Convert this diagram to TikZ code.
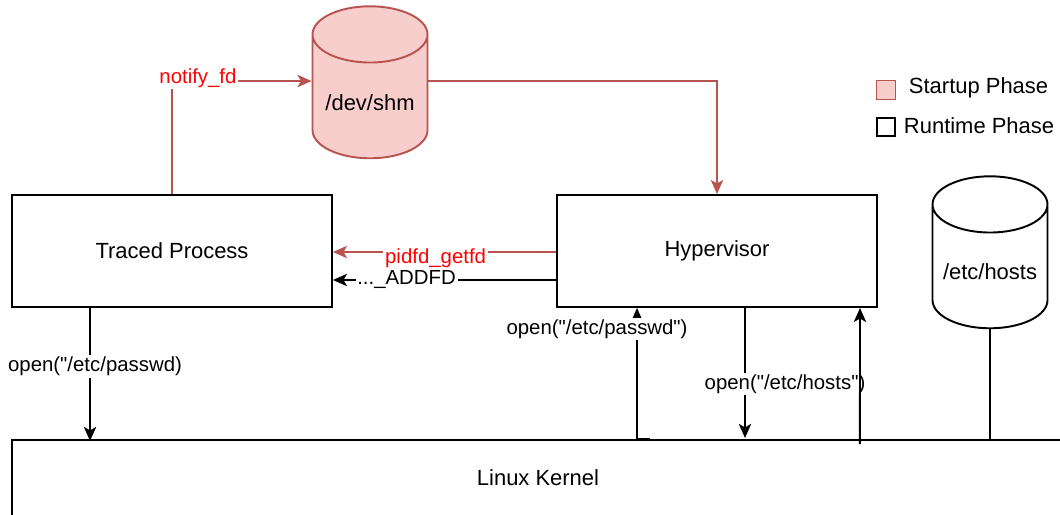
\documentclass[tikz,border=0pt]{standalone}
\usepackage{fontspec}
\setmainfont{Liberation Sans}[Ligatures=TeXOff]
\usetikzlibrary{shapes.geometric,arrows.meta}
\definecolor{startred}{HTML}{B85450}
\definecolor{startfill}{HTML}{F8CECC}

\begin{document}
\begin{tikzpicture}[x=0.02cm,y=-0.02cm,line width=1.1pt,
    box/.style={draw,minimum width=6.4cm,minimum height=2.24cm,font=\fontsize{12.5}{15}\selectfont},
    store/.style={draw,cylinder,shape border rotate=90,aspect=4.8,minimum width=2.3cm,minimum height=3.04cm},
    txt/.style={font=\fontsize{12.5}{15}\selectfont},
    lbl/.style={fill=white,inner sep=1pt,font=\fontsize{11.6}{14}\selectfont},
    arr/.style={-{Stealth[length=8pt,width=7pt,inset=2pt]}}]
    \useasboundingbox (0,0) rectangle (1060,514);

    % processes and files
    \node[box] (tp) at (172,251) {Traced Process};
    \node[box] (hv) at (717,251) {Hypervisor};
    \node[store,draw=startred,fill=startfill] (shm) at (370,103) {};
    \node[txt] at (370,103) {/dev/shm};
    \node[store] (hosts) at (990,273) {};
    \node[txt] at (990,272) {/etc/hosts};
    \node[box,minimum width=21.04cm,minimum height=1.52cm] (lk) at (538,478) {Linux Kernel};

    % legend
    \node[draw=startred,fill=startfill,minimum size=0.38cm,inner sep=0pt,line width=0.8pt] (ks) at (886,90) {};
    \node[txt,anchor=west,inner sep=0pt] at (908,88) {Startup Phase};
    \node[draw,minimum size=0.36cm,inner sep=0pt,line width=0.8pt] (kr) at (886,127) {};
    \node[txt,anchor=west,inner sep=0pt] at (903,126) {Runtime Phase};

    % startup phase
    \draw[arr,draw=startred] (tp.north) |- ([yshift=0.44cm]shm.west)
        node[lbl,text=red,pos=0.593,yshift=0.06cm] {notify\_fd};
    \draw[arr,draw=startred] ([yshift=0.44cm]shm.east) -| (hv.north);
    \draw[arr,draw=startred] ([yshift=-0.02cm]hv.west) -- ([yshift=-0.02cm]tp.east)
        node[lbl,text=red,pos=0.54,yshift=-0.12cm] {pidfd\_getfd};

    % runtime phase
    \draw[arr] ([yshift=-0.58cm]hv.west) -- ([yshift=-0.58cm]tp.east)
        node[lbl,pos=0.67] {...\_ADDFD};
    \draw[arr] ([xshift=-1.64cm]tp.south) -- ++(0,133)
        node[lbl,pos=0.44,xshift=0.1cm] {open("/etc/passwd)};
    \draw[arr] ([xshift=2.24cm]lk.north) -| ([xshift=-1.6cm]hv.south)
        node[lbl,pos=0.92,xshift=-0.8cm] {open("/etc/passwd")};
    \draw[arr] ([xshift=0.56cm]hv.south) -- ++(0,130)
        node[lbl,pos=0.585,xshift=0.8cm] {open("/etc/hosts")};
    \draw[arr] ([xshift=6.44cm,yshift=-0.1cm]lk.north) -- ([xshift=2.86cm]hv.south);
    \draw (hosts.south) -- (hosts.south |- lk.north);
\end{tikzpicture}
\end{document}
